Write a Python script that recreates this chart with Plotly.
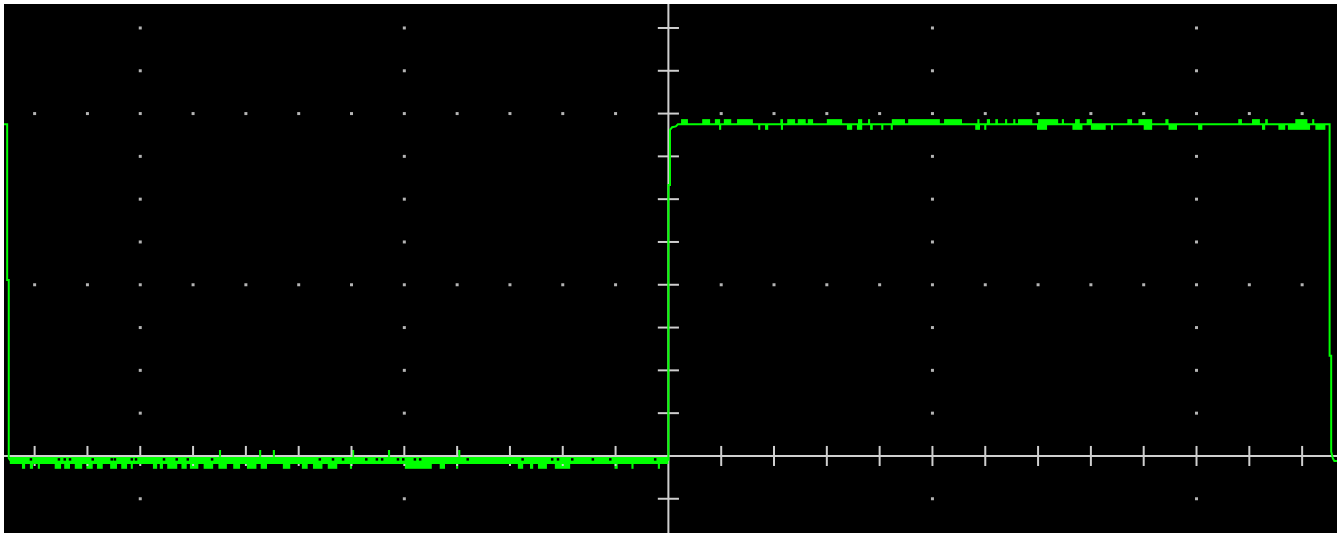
import plotly.graph_objects as go

# ---------------- screen / axis geometry (units = minor divisions) ----------------
X_RANGE = [-12.58, 12.66]
Y_RANGE = [-1.80, 10.56]
x_ticks = [-12, -11, -10, -9, -8, -7, -6, -5, -4, -3, -2, -1,
           1, 2, 3, 4, 5, 6, 7, 8, 9, 10, 11, 12]
y_ticks = [-1, 1, 2, 3, 4, 5, 6, 7, 8, 9, 10]
grid_cols = [-10, -5, 5, 10]
grid_rows = [4, 8]

wave_x = [-12.58, -12.52, -12.52, -12.49, -12.49, -12.47, 0.0, 0.0, 0.03, 0.03,
          0.07, 0.14, 0.18, 12.52, 12.52, 12.55, 12.55, 12.58, 12.61, 12.66]
wave_y = [7.75, 7.75, 4.11, 4.11, -0.05, -0.09, -0.09, 6.33, 6.33, 7.62,
          7.68, 7.70, 7.75, 7.75, 2.34, 2.34, 0.10, -0.05, -0.12, -0.12]

HIGH_LEVEL = 7.75
LOW_LEVEL = -0.105
low_band_x = [-12.47, 0.0]

# noise glitches on the high level: (start, end)
high_up = [(0.24, 0.37), (0.64, 0.79), (0.88, 0.98), (1.05, 1.19), (1.30, 1.60),
           (2.12, 2.17), (2.25, 2.40), (2.45, 2.60), (2.64, 2.74), (3.00, 3.29),
           (3.59, 3.67), (3.78, 3.82), (4.23, 4.48), (4.54, 5.14), (5.22, 5.56),
           (5.87, 5.87), (6.03, 6.09), (6.19, 6.24), (6.38, 6.41), (6.53, 6.57),
           (6.62, 6.89), (7.00, 7.38), (7.47, 7.47), (7.70, 7.79), (7.92, 8.02),
           (8.69, 8.78), (8.90, 9.16), (9.41, 9.47), (10.79, 10.86), (11.05, 11.20),
           (11.30, 11.35), (11.87, 12.10), (12.21, 12.21)]
high_down = [(0.98, 0.98), (1.70, 1.74), (1.83, 1.89), (2.15, 2.15), (3.38, 3.48),
             (3.57, 3.67), (3.82, 3.87), (4.05, 4.05), (4.23, 4.23), (5.81, 5.90),
             (6.00, 6.00), (6.98, 7.17), (7.65, 7.84), (8.00, 8.28), (8.40, 8.40),
             (9.00, 9.16), (9.47, 9.63), (10.03, 10.11), (11.24, 11.30), (11.55, 11.68),
             (11.73, 12.15), (12.25, 12.44)]

# noise glitches on the low level
low_down = [(-12.24, -12.18), (-12.09, -12.03), (-11.94, -11.90), (-11.62, -11.50),
            (-11.44, -11.33), (-11.24, -11.10), (-11.02, -10.90), (-10.82, -10.71),
            (-10.57, -10.44), (-10.36, -10.25), (-10.16, -10.16), (-9.76, -9.68),
            (-9.63, -9.57), (-9.49, -9.30), (-9.22, -9.12), (-9.06, -8.90),
            (-8.80, -8.62), (-8.52, -8.36), (-8.24, -8.11), (-7.98, -7.80),
            (-7.72, -7.60), (-7.30, -7.16), (-6.94, -6.83), (-6.73, -6.55),
            (-6.45, -6.27), (-6.03, -5.99), (-4.99, -4.48), (-4.33, -4.23),
            (-4.00, -4.00), (-2.85, -2.75), (-2.62, -2.56), (-2.47, -2.30),
            (-2.15, -1.86), (-1.02, -0.96), (-0.69, -0.67), (-0.20, -0.16)]
low_up = [-8.49, -7.73, -7.47, -5.97, -5.29, -3.96]

# dark gaps inside the low band
low_gaps = [-12.07, -11.54, -11.43, -11.33, -10.90, -10.54, -10.48, -10.16, -10.08,
            -9.55, -9.31, -9.10, -8.64, -6.60, -6.35, -6.16, -5.72, -5.52, -5.42,
            -5.12, -5.02, -4.80, -4.70, -3.80, -2.76, -2.20, -2.09, -1.82, -1.43,
            -1.10, -0.25]

GREEN = "#00ff00"
AXIS = "#cfcfcf"
DOT = "#b4b4b4"

fig = go.Figure()

# grid dots
gx, gy = [], []
for r in grid_rows:
    for t in x_ticks:
        gx.append(t); gy.append(r)
for c in grid_cols:
    for t in y_ticks:
        if t not in grid_rows:
            gx.append(c); gy.append(t)
fig.add_trace(go.Scatter(x=gx, y=gy, mode="markers",
                         marker=dict(size=3, color=DOT, symbol="square"),
                         hoverinfo="skip", showlegend=False))

# axis ticks (cross ticks on the centre axes)
TX = 0.234   # half-length of x ticks in y units
TY = 0.20    # half-length of y ticks in x units
tx, ty = [], []
for t in x_ticks:
    tx += [t, t, None]; ty += [-TX, TX, None]
for t in y_ticks:
    tx += [-TY, TY, None]; ty += [t, t, None]
fig.add_trace(go.Scatter(x=tx, y=ty, mode="lines",
                         line=dict(color=AXIS, width=2),
                         hoverinfo="skip", showlegend=False))

# low noise band
fig.add_trace(go.Scatter(x=low_band_x, y=[LOW_LEVEL, LOW_LEVEL], mode="lines",
                         line=dict(color=GREEN, width=7),
                         hoverinfo="skip", showlegend=False))

# main waveform
fig.add_trace(go.Scatter(x=wave_x, y=wave_y, mode="lines",
                         line=dict(color=GREEN, width=2),
                         hoverinfo="skip", showlegend=False))


def add_glitches(spans, base, height):
    xs = [(a + b) / 2 for a, b in spans]
    ws = [max(b - a, 0.04) for a, b in spans]
    fig.add_trace(go.Bar(x=xs, y=[height] * len(xs), base=[base] * len(xs), width=ws,
                         marker=dict(color=GREEN, line=dict(width=0)),
                         hoverinfo="skip", showlegend=False))


add_glitches(high_up, HIGH_LEVEL, 0.12)
add_glitches(high_down, HIGH_LEVEL, -0.13)
add_glitches(low_down, -0.15, -0.15)
add_glitches([(v, v) for v in low_up], -0.02, 0.16)

fig.add_trace(go.Scatter(x=low_gaps, y=[-0.08] * len(low_gaps), mode="markers",
                         marker=dict(size=2.5, color="black", symbol="square"),
                         hoverinfo="skip", showlegend=False))

# centre axes
fig.add_shape(type="line", x0=X_RANGE[0], x1=X_RANGE[1], y0=0, y1=0,
              line=dict(color=AXIS, width=2), layer="below")
fig.add_shape(type="line", x0=0, x1=0, y0=Y_RANGE[0], y1=Y_RANGE[1],
              line=dict(color=AXIS, width=2), layer="below")

fig.update_layout(
    width=1337, height=533,
    margin=dict(l=4, t=4, r=0, b=0, pad=0),
    paper_bgcolor="white", plot_bgcolor="black",
    barmode="overlay", showlegend=False,
    xaxis=dict(range=X_RANGE, showgrid=False, zeroline=False, showticklabels=False,
               ticks="", showline=False, fixedrange=True),
    yaxis=dict(range=Y_RANGE, showgrid=False, zeroline=False, showticklabels=False,
               ticks="", showline=False, fixedrange=True),
)

fig.write_html("out.html", config={"displayModeBar": False},
               post_script="document.body.style.margin='0px';document.body.style.overflow='hidden';")
